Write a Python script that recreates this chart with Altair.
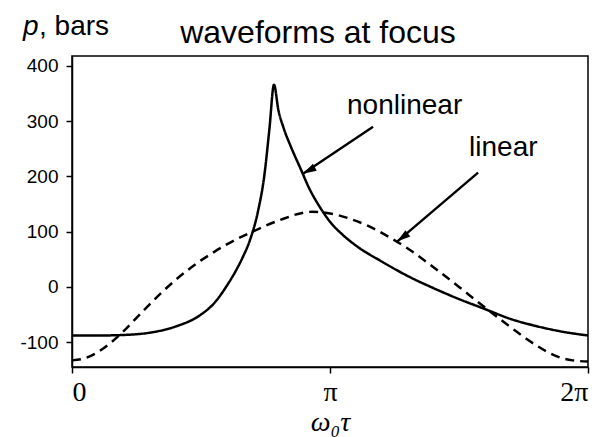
import altair as alt
import pandas as pd

# phase in units of pi, pressure in bars
nl_phase = [0.00, 0.10, 0.20, 0.30, 0.40, 0.50, 0.55, 0.60, 0.63, 0.66, 0.69, 0.72, 0.745, 0.765, 0.783,
            0.80, 0.82, 0.85, 0.885, 0.92, 0.96, 1.00, 1.05, 1.10, 1.20, 1.30, 1.40, 1.50, 1.60, 1.70,
            1.80, 1.90, 2.00]
nl_p = [-88, -88, -87, -83, -72, -50, -30, 2, 25, 52, 85, 135, 200, 285, 366,
        320, 288, 252, 215, 178, 145, 118, 94, 75, 46, 20, -2, -22, -40, -58,
        -71, -81, -88]

lin_phase = [0.00, 0.05, 0.10, 0.15, 0.20, 0.25, 0.30, 0.35, 0.40, 0.45, 0.50, 0.55, 0.60, 0.70, 0.80,
             0.93, 1.00, 1.08, 1.15, 1.23, 1.30, 1.40, 1.50, 1.57, 1.65, 1.72, 1.80, 1.87, 1.94, 2.00]
lin_p = [-133, -129, -118, -101, -80, -56, -32, -9, 12, 31, 48, 63, 77, 100, 120,
         136, 133, 123, 110, 90, 70, 36, 0, -26, -55, -80, -106, -124, -133, -135]

# annotation arrows: tail -> head, in data units
arrow_name = ["nonlinear", "linear"]
arrow_x0 = [1.167, 1.574]
arrow_y0 = [290, 207]
arrow_x1 = [0.895, 1.26]
arrow_y1 = [205, 82]
arrow_angle = [241.5, 232.6]

label_text = ["nonlinear", "linear"]
label_x = [1.066, 1.539]
label_y = [328, 252]

curves = pd.concat([
    pd.DataFrame({"phase": nl_phase, "p": nl_p, "series": "nonlinear"}),
    pd.DataFrame({"phase": lin_phase, "p": lin_p, "series": "linear"}),
])
arrows = pd.DataFrame({"name": arrow_name, "x0": arrow_x0, "y0": arrow_y0,
                       "x1": arrow_x1, "y1": arrow_y1, "angle": arrow_angle})
labels = pd.DataFrame({"text": label_text, "x": label_x, "y": label_y})

xs = alt.Scale(domain=[0, 2], nice=False, zero=False)
ys = alt.Scale(domain=[-145, 418], nice=False, zero=False)

x_axis = alt.Axis(values=[0, 1, 2],
                  labelExpr="datum.value == 0 ? '0' : (datum.value == 1 ? 'π' : '2π')",
                  labelFont="Liberation Serif", labelFontSize=28, labelColor="black",
                  labelPadding=5, tickSize=6, tickColor="black", tickWidth=1.5,
                  domainColor="black", domainWidth=1.5, grid=False,
                  title="ω₀τ", titleFont="Liberation Serif", titleFontStyle="italic",
                  titleFontSize=28, titleFontWeight="normal", titleColor="black",
                  titleBaseline="alphabetic", titleY=63)
y_axis = alt.Axis(values=[-100, 0, 100, 200, 300, 400],
                  labelExpr="replace(datum.label, '−', '-')",
                  labelFont="Liberation Sans", labelFontSize=19, labelColor="black",
                  labelPadding=8, tickSize=6, tickColor="black", tickWidth=1.5,
                  domainColor="black", domainWidth=1.5, grid=False, title=None)

lines = alt.Chart(curves).mark_line(interpolate="monotone", color="black", strokeWidth=2.5).encode(
    x=alt.X("phase:Q", scale=xs, axis=x_axis),
    y=alt.Y("p:Q", scale=ys, axis=y_axis),
    strokeDash=alt.StrokeDash("series:N", scale=alt.Scale(domain=["nonlinear", "linear"],
                                                          range=[[1, 0], [9, 6]]), legend=None),
    detail="series:N",
)

shafts = alt.Chart(arrows).mark_rule(color="black", strokeWidth=2.4).encode(
    x=alt.X("x0:Q", scale=xs), y=alt.Y("y0:Q", scale=ys),
    x2="x1:Q", y2="y1:Q",
)

heads = alt.Chart(arrows).mark_point(
    shape="M0,0L1,3.4L-1,3.4Z", filled=True, color="black", opacity=1, size=64
).encode(
    x=alt.X("x1:Q", scale=xs), y=alt.Y("y1:Q", scale=ys),
    angle=alt.Angle("angle:Q", scale=None),
)

tags = alt.Chart(labels).mark_text(align="left", baseline="middle", font="Liberation Sans",
                                   fontSize=28, color="black").encode(
    x=alt.X("x:Q", scale=xs), y=alt.Y("y:Q", scale=ys), text="text:N",
)

title = alt.Chart(pd.DataFrame({"t": ["waveforms at focus"]})).mark_text(
    align="center", baseline="alphabetic", font="Liberation Sans", fontSize=32, color="black"
).encode(x=alt.value(246), y=alt.value(-13), text="t:N")

ylab_p = alt.Chart(pd.DataFrame({"t": ["p"]})).mark_text(
    align="left", baseline="alphabetic", font="Liberation Sans", fontSize=28,
    fontStyle="italic", color="black"
).encode(x=alt.value(-49), y=alt.value(-21), text="t:N")

ylab_rest = alt.Chart(pd.DataFrame({"t": [", bars"]})).mark_text(
    align="left", baseline="alphabetic", font="Liberation Sans", fontSize=28, color="black"
).encode(x=alt.value(-33), y=alt.value(-21), text="t:N")

chart = alt.layer(lines, shafts, heads, tags, title, ylab_p, ylab_rest).properties(
    width=516, height=311,
    autosize=alt.AutoSizeParams(type="none"),
    padding={"left": 72, "top": 56, "right": 20, "bottom": 70},
    background="white",
).configure_view(stroke="black", strokeWidth=1.5)

chart.save("out.html", embed_options={"renderer": "svg", "actions": False})
